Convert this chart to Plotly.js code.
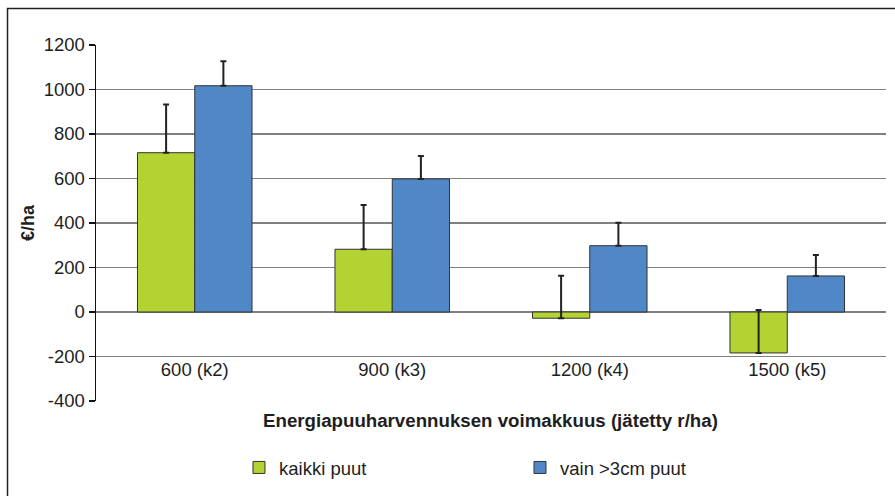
<!DOCTYPE html>
<html>
<head>
<meta charset="utf-8">
<script src="https://cdn.plot.ly/plotly-3.0.1.min.js"></script>
<style>html,body{margin:0;padding:0;background:#fff;}#chart{width:895px;height:496px;}</style>
</head>
<body>
<div id="chart"></div>
<script>
const categories = ["600 (k2)", "900 (k3)", "1200 (k4)", "1500 (k5)"];
const seriesNames = ["kaikki puut", "vain >3cm puut"];
const kaikkiValues = [716, 282, -28, -184];
const kaikkiErrors = [217, 199, 191, 193];
const vainValues = [1017, 598, 298, 162];
const vainErrors = [110, 103, 103, 94];
const yTicks = [-400, -200, 0, 200, 400, 600, 800, 1000, 1200];
const yTitle = "€/ha";
const xTitle = "Energiapuuharvennuksen voimakkuus (jätetty r/ha)";

const FONT = "Liberation Sans, Arial, sans-serif";
const yMin = -400, yMax = 1200;

const traces = [
  {
    type: "bar", name: seriesNames[0], x: categories, y: kaikkiValues,
    marker: {color: "#b3d333", line: {color: "#333333", width: 1}},
    error_y: {type: "data", symmetric: false, array: kaikkiErrors, arrayminus: [0,0,0,0],
              color: "#222222", thickness: 2, width: 3}
  },
  {
    type: "bar", name: seriesNames[1], x: categories, y: vainValues,
    marker: {color: "#5088c7", line: {color: "#333333", width: 1}},
    error_y: {type: "data", symmetric: false, array: vainErrors, arrayminus: [0,0,0,0],
              color: "#222222", thickness: 2, width: 3}
  }
];

const layout = {
  width: 895, height: 496,
  margin: {l: 96, r: 9, t: 45, b: 95},
  paper_bgcolor: "#ffffff", plot_bgcolor: "#ffffff",
  font: {family: FONT, size: 18.5, color: "#1e1e1e"},
  barmode: "group", bargap: 0.42, bargroupgap: 0,
  showlegend: true,
  legend: {orientation: "h", x: 0.181, xanchor: "left", y: -0.188, yanchor: "middle",
           entrywidth: 236, entrywidthmode: "pixels",
           font: {family: FONT, size: 18.5, color: "#1e1e1e"}, bgcolor: "rgba(0,0,0,0)"},
  xaxis: {
    type: "category", anchor: "free", position: (-200 - yMin) / (yMax - yMin),
    showline: false, showgrid: false, zeroline: false, ticks: "",
    tickfont: {family: FONT, size: 18.5, color: "#1e1e1e"}
  },
  yaxis: {
    range: [yMin, yMax], tickvals: yTicks, ticktext: yTicks.map(String),
    showline: true, linecolor: "#111111", linewidth: 1.5,
    ticks: "outside", ticklen: 6, tickcolor: "#111111", tickwidth: 1.5,
    showgrid: true, gridcolor: "#808080", gridwidth: 1.6,
    zeroline: true, zerolinecolor: "#808080", zerolinewidth: 1.6,
    tickfont: {family: FONT, size: 18.5, color: "#1e1e1e"},
    title: {text: yTitle, font: {family: FONT, size: 18, color: "#1e1e1e", weight: "bold"}, standoff: 4}
  },
  annotations: [
    {text: xTitle, xref: "paper", yref: "paper", x: 0.499, y: -0.056, xanchor: "center", yanchor: "middle",
     showarrow: false, font: {family: FONT, size: 18.7, color: "#1e1e1e", weight: "bold"}}
  ],
  shapes: [
    {type: "rect", xref: "paper", yref: "paper", x0: -0.112, x1: 1.02, y0: -0.3, y1: 1.1025,
     line: {color: "#222222", width: 1.5}, fillcolor: "rgba(0,0,0,0)", layer: "below"}
  ]
};

Plotly.newPlot("chart", traces, layout, {displayModeBar: false, staticPlot: true});
</script>
</body>
</html>
